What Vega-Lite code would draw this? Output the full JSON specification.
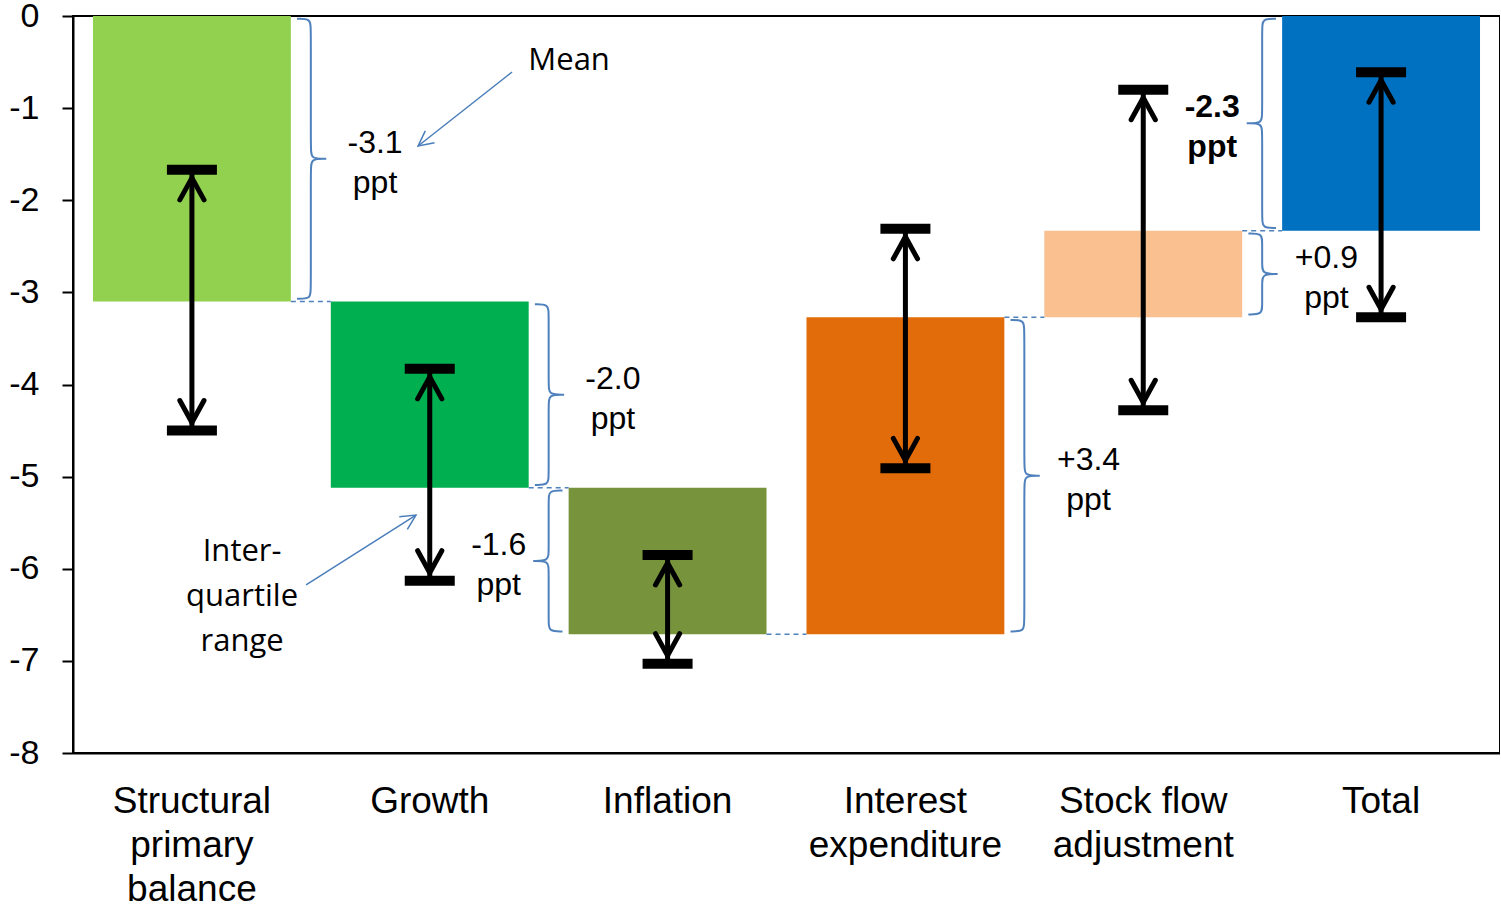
{
  "$schema": "https://vega.github.io/schema/vega-lite/v6.json",
  "width": 1427,
  "height": 737,
  "autosize": {"type": "none"},
  "padding": {"left": 73, "top": 16, "right": 0, "bottom": 155},
  "background": "#ffffff",
  "config": {
    "view": {"stroke": "#000000", "strokeWidth": 2},
    "font": "Liberation Sans",
    "axis": {"grid": false}
  },
  "data": {
    "values": [
      {"category": "Structural primary balance", "start": 0, "end": -3.10, "iqrHigh": -1.67, "iqrLow": -4.50},
      {"category": "Growth", "start": -3.10, "end": -5.12, "iqrHigh": -3.83, "iqrLow": -6.13},
      {"category": "Inflation", "start": -5.12, "end": -6.71, "iqrHigh": -5.85, "iqrLow": -7.03},
      {"category": "Interest expenditure", "start": -6.71, "end": -3.27, "iqrHigh": -2.31, "iqrLow": -4.91},
      {"category": "Stock flow adjustment", "start": -3.27, "end": -2.33, "iqrHigh": -0.80, "iqrLow": -4.28},
      {"category": "Total", "start": 0, "end": -2.33, "iqrHigh": -0.61, "iqrLow": -3.27}
    ]
  },
  "resolve": {"scale": {"x": "independent"}, "axis": {"x": "independent"}},
  "layer": [
    {
      "encoding": {
        "x": {
          "field": "category",
          "type": "nominal",
          "sort": null,
          "scale": {"paddingInner": 0.168, "paddingOuter": 0.084},
          "axis": {
            "title": null,
            "ticks": false,
            "domainColor": "#000000",
            "domainWidth": 2,
            "labelAngle": 0,
            "labelFont": "Liberation Sans",
            "labelFontSize": 37,
            "labelColor": "#000000",
            "labelPadding": 30,
            "labelLineHeight": 44,
            "labelLimit": 500,
            "labelExpr": "datum.label == 'Stock flow adjustment' ? ['Stock flow', 'adjustment'] : split(datum.label, ' ')"
          }
        }
      },
      "layer": [
        {
          "mark": {"type": "bar"},
          "encoding": {
            "y": {
              "field": "start",
              "type": "quantitative",
              "title": null,
              "scale": {"domain": [-8, 0], "nice": false, "zero": false},
              "axis": {
                "title": null,
                "values": [-8, -7, -6, -5, -4, -3, -2, -1, 0],
                "labelExpr": "toString(datum.value)",
                "labelFont": "Liberation Sans",
                "labelFontSize": 34,
                "labelColor": "#000000",
                "labelPadding": 23,
                "tickSize": 11,
                "tickWidth": 2,
                "tickColor": "#000000",
                "domainColor": "#000000",
                "domainWidth": 2
              }
            },
            "y2": {"field": "end"},
            "color": {
              "field": "category",
              "type": "nominal",
              "legend": null,
              "scale": {
                "domain": ["Structural primary balance", "Growth", "Inflation", "Interest expenditure", "Stock flow adjustment", "Total"],
                "range": ["#92D050", "#00B050", "#77933C", "#E36C0A", "#FAC090", "#0070C0"]
              }
            }
          }
        },
        {
          "mark": {"type": "rule", "color": "#000000", "strokeWidth": 5},
          "encoding": {
            "y": {"field": "iqrHigh", "type": "quantitative", "title": null},
            "y2": {"field": "iqrLow"}
          }
        },
        {
          "mark": {"type": "tick", "orient": "horizontal", "size": 50, "thickness": 10, "color": "#000000", "opacity": 1},
          "encoding": {"y": {"field": "iqrHigh", "type": "quantitative", "title": null}}
        },
        {
          "mark": {"type": "tick", "orient": "horizontal", "size": 50, "thickness": 10, "color": "#000000", "opacity": 1},
          "encoding": {"y": {"field": "iqrLow", "type": "quantitative", "title": null}}
        },
        {
          "mark": {"type": "point", "shape": "M-0.55,1L0,0L0.55,1", "size": 1936, "filled": false, "stroke": "#000000", "strokeWidth": 5, "strokeCap": "round", "strokeJoin": "round", "opacity": 1, "yOffset": 8},
          "encoding": {"y": {"field": "iqrHigh", "type": "quantitative", "title": null}}
        },
        {
          "mark": {"type": "point", "shape": "M-0.55,1L0,0L0.55,1", "size": 1936, "angle": 180, "filled": false, "stroke": "#000000", "strokeWidth": 5, "strokeCap": "round", "strokeJoin": "round", "opacity": 1, "yOffset": -8},
          "encoding": {"y": {"field": "iqrLow", "type": "quantitative", "title": null}}
        }
      ]
    },
    {
      "layer": [
        {
          "transform": [
            {"window": [{"op": "row_number", "as": "rn"}]},
            {"calculate": "datum.rn - 1", "as": "i"},
            {"calculate": "datum.category == 'Inflation' || datum.category == 'Total' ? -1 : 1", "as": "side"},
            {"calculate": "max(datum.start, datum.end) - 0.03", "as": "hi"},
            {"calculate": "min(datum.start, datum.end) + 0.03", "as": "lo"},
            {"calculate": "datum.side > 0 ? datum.i + 1.0 : datum.i", "as": "v"},
            {"calculate": "[(datum.end - datum.start > 0 ? '+' : '-') + format(abs(datum.end - datum.start), '.1f'), 'ppt']", "as": "note"},
            {"calculate": "datum.v + datum.side * (datum.side > 0 ? 0.27 : 0.21)", "as": "noteX"},
            {"calculate": "(datum.hi + datum.lo) / 2", "as": "noteY"}
          ],
          "layer": [
            {
              "transform": [
                {"filter": "datum.i < 5"},
                {"calculate": "datum.i + 0.916", "as": "cx"},
                {"calculate": "datum.i + 1.084", "as": "cx2"}
              ],
              "mark": {"type": "rule", "color": "#4F81BD", "strokeWidth": 1.5, "strokeDash": [5, 4]},
              "encoding": {
                "x": {"field": "cx", "type": "quantitative", "scale": {"domain": [0, 6], "nice": false, "zero": false}, "axis": null},
                "x2": {"field": "cx2"},
                "y": {"field": "end", "type": "quantitative", "title": null}
              }
            },
            {
              "transform": [
                {"calculate": "[-0.058, 0, 0, 0, 0, 0.065, 0.065, 0.065, 0, 0, 0, 0, -0.058]", "as": "px"},
                {"calculate": "[0, 0, 0, 0.5, 0.5, 0.5, 0.5, 0.5, 0.5, 0.5, 1, 1, 1]", "as": "pt"},
                {"calculate": "[0, 0, -1, 1, 0, 0, 0, 0, 0, -1, 1, 0, 0]", "as": "po"},
                {"calculate": "[0, 1, 2, 3, 4, 5, 6, 7, 8, 9, 10, 11, 12]", "as": "ord"},
                {"flatten": ["px", "pt", "po", "ord"]},
                {"calculate": "datum.v + datum.side * datum.px", "as": "bx"},
                {"calculate": "datum.hi + datum.pt * (datum.lo - datum.hi) + datum.po * 0.1", "as": "by"}
              ],
              "mark": {"type": "line", "color": "#4F81BD", "strokeWidth": 2, "interpolate": "basis"},
              "encoding": {
                "x": {"field": "bx", "type": "quantitative", "scale": {"domain": [0, 6], "nice": false, "zero": false}, "axis": null},
                "y": {"field": "by", "type": "quantitative", "title": null},
                "detail": {"field": "category"},
                "order": {"field": "ord", "type": "quantitative"}
              }
            },
            {
              "transform": [{"filter": "datum.category != 'Total'"}],
              "mark": {"type": "text", "font": "Liberation Sans", "fontSize": 32, "lineHeight": 40, "align": "center", "baseline": "middle", "color": "#000000", "yOffset": -16},
              "encoding": {
                "x": {"field": "noteX", "type": "quantitative", "scale": {"domain": [0, 6], "nice": false, "zero": false}, "axis": null},
                "y": {"field": "noteY", "type": "quantitative", "title": null},
                "text": {"field": "note"}
              }
            },
            {
              "transform": [{"filter": "datum.category == 'Total'"}],
              "mark": {"type": "text", "font": "Liberation Sans", "fontSize": 32, "fontWeight": "bold", "lineHeight": 40, "align": "center", "baseline": "middle", "color": "#000000", "yOffset": -16},
              "encoding": {
                "x": {"field": "noteX", "type": "quantitative", "scale": {"domain": [0, 6], "nice": false, "zero": false}, "axis": null},
                "y": {"field": "noteY", "type": "quantitative", "title": null},
                "text": {"field": "note"}
              }
            }
          ]
        },
        {
          "data": {"values": [{}]},
          "mark": {"type": "rule", "color": "#4A7EBB", "strokeWidth": 1.5},
          "encoding": {
            "x": {"datum": 1.846, "type": "quantitative", "scale": {"domain": [0, 6], "nice": false, "zero": false}, "axis": null},
            "y": {"datum": -0.608, "type": "quantitative"},
            "x2": {"datum": 1.451},
            "y2": {"datum": -1.411}
          }
        },
        {
          "data": {"values": [{}]},
          "mark": {"type": "point", "shape": "M-0.5,1L0,0L0.5,1", "size": 900, "angle": 232, "filled": false, "stroke": "#4A7EBB", "strokeWidth": 1.5, "opacity": 1},
          "encoding": {
            "x": {"datum": 1.451, "type": "quantitative"},
            "y": {"datum": -1.411, "type": "quantitative"}
          }
        },
        {
          "data": {"values": [{}]},
          "mark": {"type": "rule", "color": "#4A7EBB", "strokeWidth": 1.5},
          "encoding": {
            "x": {"datum": 0.980, "type": "quantitative"},
            "y": {"datum": -6.176, "type": "quantitative"},
            "x2": {"datum": 1.442},
            "y2": {"datum": -5.417}
          }
        },
        {
          "data": {"values": [{}]},
          "mark": {"type": "point", "shape": "M-0.5,1L0,0L0.5,1", "size": 900, "angle": 57.5, "filled": false, "stroke": "#4A7EBB", "strokeWidth": 1.5, "opacity": 1},
          "encoding": {
            "x": {"datum": 1.442, "type": "quantitative"},
            "y": {"datum": -5.417, "type": "quantitative"}
          }
        },
        {
          "data": {"values": [{}]},
          "mark": {"type": "text", "text": "Mean", "font": "Open Sans", "fontSize": 31, "align": "center", "baseline": "middle", "color": "#000000"},
          "encoding": {
            "x": {"datum": 2.086, "type": "quantitative"},
            "y": {"datum": -0.488, "type": "quantitative"}
          }
        },
        {
          "data": {"values": [{}]},
          "mark": {"type": "text", "text": ["Inter-", "quartile", "range"], "font": "Open Sans", "fontSize": 31, "lineHeight": 45, "align": "center", "baseline": "middle", "color": "#000000", "yOffset": -45},
          "encoding": {
            "x": {"datum": 0.711, "type": "quantitative"},
            "y": {"datum": -6.307, "type": "quantitative"}
          }
        }
      ]
    }
  ]
}
